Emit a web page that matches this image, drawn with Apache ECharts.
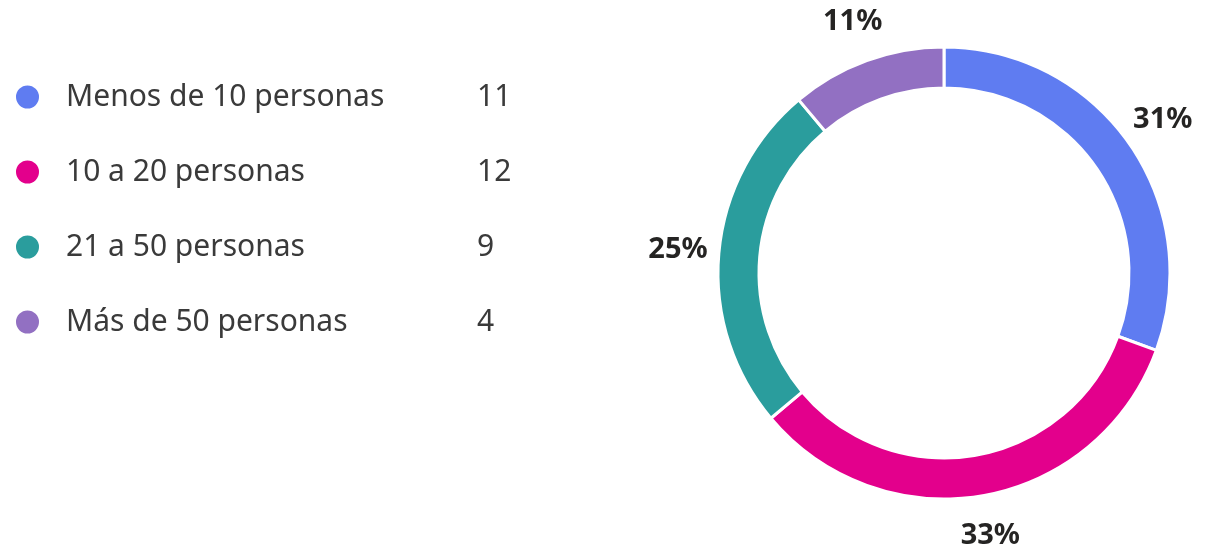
<!DOCTYPE html>
<html>
<head>
<meta charset="utf-8">
<script src="https://cdn.jsdelivr.net/npm/echarts@6/dist/echarts.min.js"></script>
<style>
html,body{margin:0;padding:0;background:#fff;}
#chart{width:1208px;height:545px;}
</style>
</head>
<body>
<div id="chart"></div>
<script>
const categories = ['Menos de 10 personas', '10 a 20 personas', '21 a 50 personas', 'Más de 50 personas'];
const counts = [11, 12, 9, 4];
const colors = ['#5F7CF1', '#E3008C', '#2A9D9D', '#9270C2'];

const total = counts.reduce((a, b) => a + b, 0);
const pieData = categories.map((c, i) => ({ name: c, value: counts[i], itemStyle: { color: colors[i] } }));
const labelData = categories.map((c, i) => ({ name: c, value: counts[i] }));

const chart = echarts.init(document.getElementById('chart'), null, { renderer: 'canvas' });
chart.setOption({
  animation: false,
  legend: {
    orient: 'vertical',
    left: 9,
    top: 77,
    icon: 'circle',
    itemWidth: 25,
    itemHeight: 25,
    itemGap: 45,
    selectedMode: false,
    data: categories,
    formatter: function (name) {
      const i = categories.indexOf(name);
      return '{s|}{n|' + name + '}{v|' + counts[i] + '}';
    },
    textStyle: {
      fontFamily: 'Noto Sans',
      fontSize: 30,
      color: '#3a3a3a',
      rich: {
        s: { width: 21 },
        n: { width: 411, fontFamily: 'Noto Sans', fontSize: 30, color: '#3a3a3a' },
        v: { fontFamily: 'Noto Sans', fontSize: 30, color: '#3a3a3a' }
      }
    }
  },
  series: [
    {
      type: 'pie',
      center: [944, 273],
      radius: [185, 226],
      startAngle: 90,
      clockwise: true,
      silent: true,
      label: { show: false },
      labelLine: { show: false },
      itemStyle: { borderColor: '#ffffff', borderWidth: 3 },
      data: pieData
    },
    {
      type: 'pie',
      center: [944, 273],
      radius: [246, 282],
      startAngle: 90,
      clockwise: true,
      silent: true,
      legendHoverLink: false,
      itemStyle: { color: 'rgba(0,0,0,0)' },
      label: {
        show: true,
        position: 'inside',
        fontFamily: 'Noto Sans',
        fontWeight: 'bold',
        fontSize: 29,
        color: '#252423',
        formatter: function (p) { return Math.round(p.value / total * 100) + '%'; }
      },
      labelLine: { show: false },
      data: labelData
    }
  ]
});
</script>
</body>
</html>
